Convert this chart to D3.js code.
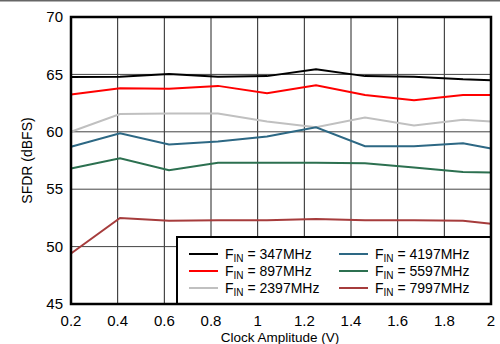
<!DOCTYPE html>
<html>
<head>
<meta charset="utf-8">
<script src="https://cdn.jsdelivr.net/npm/d3@7"></script>
<style>
  body { margin: 0; background: #fff; }
  svg { display: block; font-family: "Liberation Sans", Arial, sans-serif; }
</style>
</head>
<body>
<div id="chart"></div>
<script>
var width = 500,
  height = 344,
  margin = {top: 17, right: 9, bottom: 40, left: 71};

// clock amplitude (V)
var amplitude = [0.2, 0.41, 0.62, 0.83, 1.04, 1.25, 1.46, 1.67, 1.88, 2.0];

var seriesNames = ["347MHz", "897MHz", "2397MHz", "4197MHz", "5597MHz", "7997MHz"];
var seriesColors = ["#000000", "#ff0000", "#c0c0c0", "#2d6884", "#2c7050", "#a63c3c"];

var sfdr347 = [64.77, 64.8, 65.03, 64.8, 64.85, 65.45, 64.85, 64.8, 64.57, 64.5];
var sfdr897 = [63.25, 63.8, 63.75, 64.0, 63.35, 64.05, 63.2, 62.75, 63.2, 63.2];
var sfdr2397 = [60.0, 61.55, 61.6, 61.6, 60.9, 60.4, 61.25, 60.55, 61.05, 60.9];
var sfdr4197 = [58.7, 59.87, 58.9, 59.15, 59.6, 60.4, 58.75, 58.75, 59.0, 58.55];
var sfdr5597 = [56.8, 57.7, 56.65, 57.3, 57.3, 57.3, 57.25, 56.9, 56.5, 56.45];
var sfdr7997 = [49.4, 52.5, 52.25, 52.3, 52.3, 52.4, 52.3, 52.3, 52.25, 52.0];

var xTicks = [0.2, 0.4, 0.6, 0.8, 1, 1.2, 1.4, 1.6, 1.8, 2];
var yTicks = [45, 50, 55, 60, 65, 70];

var allSeries = [sfdr347, sfdr897, sfdr2397, sfdr4197, sfdr5597, sfdr7997];

var svg = d3.select("#chart").append("svg")
  .attr("width", width)
  .attr("height", height);

// thin frame line along the top of the picture
svg.append("rect")
  .attr("x", 0).attr("y", 0)
  .attr("width", width).attr("height", 1.5)
  .attr("fill", "#666");

var w = width - margin.left - margin.right,
    h = height - margin.top - margin.bottom;

var x = d3.scaleLinear().domain([0.2, 2]).range([margin.left, margin.left + w]);
var y = d3.scaleLinear().domain([45, 70]).range([margin.top + h, margin.top]);

// grid
svg.append("g")
  .selectAll("line")
  .data(xTicks)
  .enter().append("line")
  .attr("x1", function(d) { return x(d); })
  .attr("x2", function(d) { return x(d); })
  .attr("y1", margin.top)
  .attr("y2", margin.top + h)
  .attr("stroke", "#222")
  .attr("stroke-width", 1);

svg.append("g")
  .selectAll("line")
  .data(yTicks)
  .enter().append("line")
  .attr("x1", margin.left)
  .attr("x2", margin.left + w)
  .attr("y1", function(d) { return y(d); })
  .attr("y2", function(d) { return y(d); })
  .attr("stroke", "#444")
  .attr("stroke-width", 1);

// series lines
var line = d3.line()
  .x(function(d, i) { return x(amplitude[i]); })
  .y(function(d) { return y(d); });

svg.append("g")
  .selectAll("path")
  .data(allSeries)
  .enter().append("path")
  .attr("d", line)
  .attr("fill", "none")
  .attr("stroke", function(d, i) { return seriesColors[i]; })
  .attr("stroke-width", 2);

// tick labels
svg.append("g")
  .selectAll("text")
  .data(yTicks)
  .enter().append("text")
  .attr("x", margin.left - 8)
  .attr("y", function(d) { return y(d); })
  .attr("dy", "0.35em")
  .attr("text-anchor", "end")
  .style("font-size", "15px")
  .text(function(d) { return d; });

svg.append("g")
  .selectAll("text")
  .data(xTicks)
  .enter().append("text")
  .attr("x", function(d) { return x(d); })
  .attr("y", margin.top + h + 22)
  .attr("text-anchor", "middle")
  .style("font-size", "15px")
  .text(function(d) { return d; });

svg.append("text")
  .attr("x", 280)
  .attr("y", height - 2)
  .attr("text-anchor", "middle")
  .style("font-size", "13.5px")
  .text("Clock Amplitude (V)");

svg.append("text")
  .attr("transform", "translate(32," + (margin.top + h / 2) + ") rotate(-90)")
  .attr("text-anchor", "middle")
  .style("font-size", "14px")
  .text("SFDR (dBFS)");

// legend
var legX = 177, legY = 237;
var legend = svg.append("g");
legend.append("rect")
  .attr("x", legX)
  .attr("y", legY)
  .attr("width", margin.left + w - legX)
  .attr("height", margin.top + h - legY)
  .attr("fill", "#fff")
  .attr("stroke", "#000")
  .attr("stroke-width", 2);

var items = legend.selectAll(".item")
  .data(seriesNames)
  .enter().append("g")
  .attr("class", "item")
  .attr("transform", function(d, i) {
    var col = Math.floor(i / 3), row = i % 3;
    return "translate(" + (legX + 12 + col * 150) + "," + (legY + 17 + row * 17) + ")";
  });

items.append("line")
  .attr("x1", 0).attr("x2", 29)
  .attr("y1", 0).attr("y2", 0)
  .attr("stroke", function(d, i) { return seriesColors[i]; })
  .attr("stroke-width", 2);

var lt = items.append("text")
  .attr("x", 36)
  .attr("dy", "0.35em")
  .style("font-size", "14px");
lt.append("tspan").text("F");
lt.append("tspan").attr("dy", 3).style("font-size", "10px").text("IN");
lt.append("tspan").attr("dy", -3).text(function(d) { return " = " + d; });

// plot frame
svg.append("rect")
  .attr("x", margin.left)
  .attr("y", margin.top)
  .attr("width", w)
  .attr("height", h)
  .attr("fill", "none")
  .attr("stroke", "#000")
  .attr("stroke-width", 2.5);
</script>
</body>
</html>
